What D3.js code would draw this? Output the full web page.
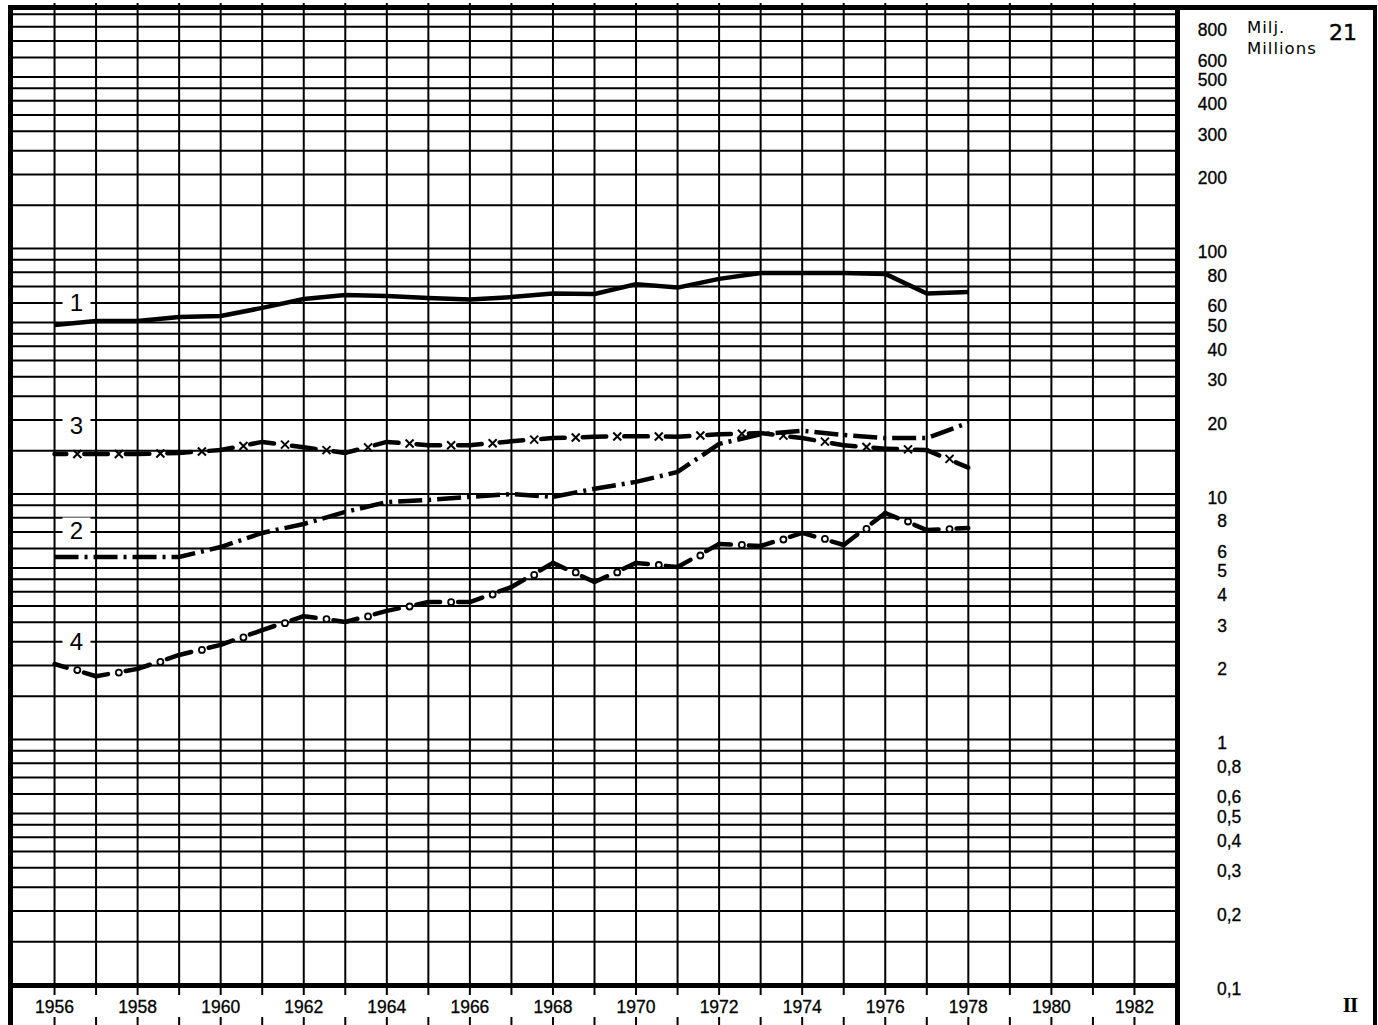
<!DOCTYPE html>
<html>
<head>
<meta charset="utf-8">
<script src="https://cdn.jsdelivr.net/npm/d3@7"></script>
<style>
  html, body { margin: 0; padding: 0; background: #fff; }
  svg { display: block; }
</style>
</head>
<body>
<div id="chart"></div>
<script>
// values, one per year 1956-1978 (millions)
const years = d3.range(1956, 1979);
const seriesOne = [48.8, 50.7, 50.7, 52.6, 53.1, 57.3, 62.3, 64.7, 64.1, 62.9, 62.0, 63.4,
  65.6, 65.3, 71.6, 69.3, 75.2, 79.5, 79.5, 79.5, 78.8, 65.6, 66.5];
const seriesTwo = [5.54, 5.54, 5.54, 5.54, 6.08, 6.94, 7.55, 8.45, 9.27, 9.46, 9.73, 10.0,
  9.73, 10.5, 11.2, 12.3, 16.0, 17.5, 18.1, 17.4, 16.9, 16.9, 19.5];
const seriesThree = [14.55, 14.55, 14.55, 14.7, 15.1, 16.3, 15.5, 14.7, 16.3, 15.8, 15.8, 16.4,
  16.9, 17.1, 17.2, 17.1, 17.5, 17.7, 16.9, 15.8, 15.3, 15.1, 12.8];
const seriesFour = [2.03, 1.81, 1.94, 2.21, 2.43, 2.79, 3.18, 3.01, 3.34, 3.63, 3.63, 4.18,
  5.24, 4.38, 5.24, 5.04, 6.26, 6.14, 6.94, 6.2, 8.37, 7.13, 7.27];

// series number labels and the value they sit at (left edge)
const seriesLabels = [
  { text: '1', value: 60 },
  { text: '3', value: 19 },
  { text: '2', value: 7.1 },
  { text: '4', value: 2.5 },
];

const gridYears = d3.range(1956, 1983);
const labelYears = d3.range(1956, 1983, 2);
const decades = [0.1, 1, 10, 100];
const steps = [1, 1.5, 2, 2.5, 3, 3.5, 4, 4.5, 5, 6, 7, 8, 9];
const yTickValues = [800, 600, 500, 400, 300, 200, 100, 80, 60, 50, 40, 30, 20, 10,
  8, 6, 5, 4, 3, 2, 1, 0.8, 0.6, 0.5, 0.4, 0.3, 0.2, 0.1];

const width = 1378;
const height = 1025;
const numFont = '"Liberation Sans", Arial, sans-serif';
const wordFont = '"DejaVu Sans", sans-serif';

const x = d3.scaleLinear().domain([1955, 1983]).range([13, 1176]);
const y = d3.scaleLog().domain([0.1, 1000]).range([985, 3]);

const svg = d3.select('#chart').append('svg')
  .attr('width', width)
  .attr('height', height);

svg.append('rect')
  .attr('width', width)
  .attr('height', height)
  .attr('fill', '#fff');

// log grid
const gridValues = [];
decades.forEach((d) => {
  steps.forEach((s) => gridValues.push(+(d * s).toPrecision(3)));
});

const grid = svg.append('g').attr('stroke', '#000').attr('stroke-width', 2);

grid.selectAll('.hline')
  .data(gridValues)
  .enter().append('line')
  .attr('class', 'hline')
  .attr('x1', x(1955))
  .attr('x2', x(1983))
  .attr('y1', d => y(d))
  .attr('y2', d => y(d));

grid.selectAll('.vline')
  .data(gridYears)
  .enter().append('line')
  .attr('class', 'vline')
  .attr('x1', d => x(d))
  .attr('x2', d => x(d))
  .attr('y1', y(1000))
  .attr('y2', y(0.1));

// year ticks under the frame
grid.selectAll('.tick-top')
  .data(gridYears)
  .enter().append('line')
  .attr('x1', d => x(d))
  .attr('x2', d => x(d))
  .attr('y1', 987)
  .attr('y2', 995);

grid.selectAll('.tick-bottom')
  .data(gridYears)
  .enter().append('line')
  .attr('x1', d => x(d))
  .attr('x2', d => x(d))
  .attr('y1', 1017)
  .attr('y2', 1025);

// heavy frame
const frame = svg.append('g').attr('stroke', '#000').attr('fill', 'none');
frame.append('line').attr('x1', 8).attr('x2', 1377).attr('y1', 7.5).attr('y2', 7.5)
  .attr('stroke-width', 5);
frame.append('line').attr('x1', 10.5).attr('x2', 10.5).attr('y1', 5).attr('y2', height)
  .attr('stroke-width', 5);
frame.append('line').attr('x1', 1177.5).attr('x2', 1177.5).attr('y1', 5).attr('y2', height)
  .attr('stroke-width', 5);
frame.append('line').attr('x1', 1375).attr('x2', 1375).attr('y1', 5).attr('y2', height)
  .attr('stroke-width', 4);
frame.append('line').attr('x1', 8).attr('x2', 1180).attr('y1', 985.5).attr('y2', 985.5)
  .attr('stroke-width', 5);

// year labels
svg.selectAll('.year')
  .data(labelYears)
  .enter().append('text')
  .attr('x', d => x(d))
  .attr('y', 1013)
  .attr('text-anchor', 'middle')
  .attr('font-family', numFont)
  .attr('font-size', 17.5)
  .attr('stroke', '#000')
  .attr('stroke-width', 0.3)
  .text(d => d);

// value labels in the side panel
const fmt = v => (v >= 1 ? String(v) : String(v).replace('.', ','));
svg.selectAll('.ylab')
  .data(yTickValues)
  .enter().append('text')
  .attr('x', d => (d >= 1 ? 1227 : 1217))
  .attr('y', d => y(d) + 9.5)
  .attr('text-anchor', d => (d >= 1 ? 'end' : 'start'))
  .attr('font-family', numFont)
  .attr('font-size', 17.5)
  .attr('stroke', '#000')
  .attr('stroke-width', 0.3)
  .text(fmt);

svg.append('text').attr('x', 1247).attr('y', 33)
  .attr('font-family', wordFont).attr('font-size', 16.5).attr('letter-spacing', 1)
  .text('Milj.');
svg.append('text').attr('x', 1247).attr('y', 54)
  .attr('font-family', wordFont).attr('font-size', 16.5).attr('letter-spacing', 1)
  .text('Millions');
svg.append('text').attr('x', 1329).attr('y', 40)
  .attr('font-family', wordFont).attr('font-size', 22)
  .attr('stroke', '#000').attr('stroke-width', 0.4)
  .text('21');
svg.append('text').attr('x', 1350).attr('y', 1012)
  .attr('text-anchor', 'middle')
  .attr('font-family', '"Liberation Serif", "DejaVu Serif", serif')
  .attr('font-weight', 'bold').attr('font-size', 21).attr('letter-spacing', -1)
  .text('II');

// series number labels on white patches
const labelX = 76.5;
const labs = svg.selectAll('.slab')
  .data(seriesLabels)
  .enter().append('g')
  .attr('transform', d => `translate(${labelX},${y(d.value)})`);
labs.append('rect')
  .attr('x', -14).attr('y', -13).attr('width', 28).attr('height', 25)
  .attr('fill', '#fff');
labs.append('text')
  .attr('text-anchor', 'middle')
  .attr('y', 8.5)
  .attr('font-family', numFont)
  .attr('font-size', 24)
  .text(d => d.text);

// lines
const line = d3.line()
  .x(d => x(d[0]))
  .y(d => y(d[1]));

const pts = vals => years.map((yr, i) => [yr, vals[i]]);

svg.append('path')
  .attr('d', line(pts(seriesOne)))
  .attr('fill', 'none')
  .attr('stroke', '#000')
  .attr('stroke-width', 4.5)
  .attr('stroke-linejoin', 'round');

svg.append('path')
  .attr('d', line(pts(seriesTwo)))
  .attr('fill', 'none')
  .attr('stroke', '#000')
  .attr('stroke-width', 4.5)
  .attr('stroke-dasharray', '24 6 3 6');

// dashed lines broken at each half year, where a marker sits
function markedSeries(vals, marker) {
  const p = pts(vals);
  const g = svg.append('g');
  const gap = 18;
  for (let i = 0; i < p.length - 1; i += 1) {
    const seg = g.append('path')
      .attr('d', line([p[i], p[i + 1]]))
      .attr('fill', 'none')
      .attr('stroke', '#000')
      .attr('stroke-width', 4.5)
      .attr('stroke-linecap', 'round');
    const len = seg.node().getTotalLength();
    const half = Math.max((len - gap) / 2, 0);
    seg.attr('stroke-dasharray', `${half} ${gap} ${len}`);

    const mx = (x(p[i][0]) + x(p[i + 1][0])) / 2 + 2;
    const my = (y(p[i][1]) + y(p[i + 1][1])) / 2;
    if (marker === 'x') {
      g.append('path')
        .attr('d', `M${mx - 4},${my - 4}L${mx + 4},${my + 4}M${mx - 4},${my + 4}L${mx + 4},${my - 4}`)
        .attr('stroke', '#000')
        .attr('stroke-width', 2);
    } else {
      g.append('circle')
        .attr('cx', mx)
        .attr('cy', my)
        .attr('r', 3)
        .attr('fill', '#fff')
        .attr('stroke', '#000')
        .attr('stroke-width', 1.8);
    }
  }
}

markedSeries(seriesThree, 'x');
markedSeries(seriesFour, 'o');
</script>
</body>
</html>
